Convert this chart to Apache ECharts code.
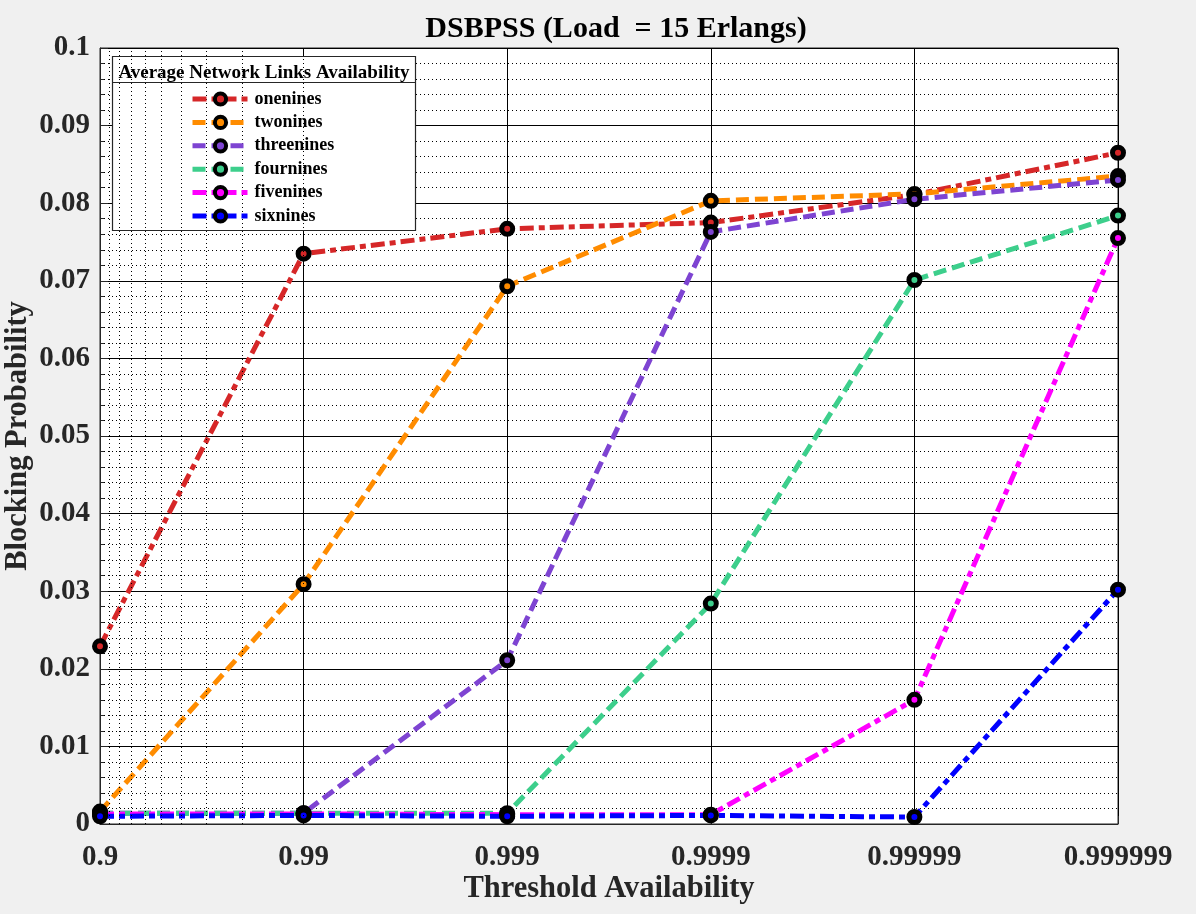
<!DOCTYPE html>
<html>
<head>
<meta charset="utf-8">
<script src="https://cdn.jsdelivr.net/npm/echarts@6/dist/echarts.min.js"></script>
<style>
html,body{margin:0;padding:0;background:#f0f0f0;}
#chart{width:1196px;height:914px;}
</style>
</head>
<body>
<div id="chart"></div>
<script>
// x positions: unavailability (1 - threshold availability), shown on a reversed log axis
const xValues = [0.1, 0.01, 0.001, 0.0001, 0.00001, 0.000001];
const xLabels = ['0.9', '0.99', '0.999', '0.9999', '0.99999', '0.999999'];
const seriesNames = ['onenines', 'twonines', 'threenines', 'fournines', 'fivenines', 'sixnines'];

const onenines   = [0.0229, 0.0735, 0.0767, 0.0775, 0.0811, 0.0865];
const twonines   = [0.0016, 0.0309, 0.0693, 0.0803, 0.0812, 0.0835];
const threenines = [0.0014, 0.0014, 0.0211, 0.0763, 0.0805, 0.0830];
const fournines  = [0.0014, 0.0014, 0.0014, 0.0284, 0.0701, 0.0784];
const fivenines  = [0.0013, 0.0013, 0.0012, 0.0012, 0.0160, 0.0755];
const sixnines   = [0.0010, 0.0011, 0.0010, 0.0011, 0.0009, 0.0302];

const yTicks = [0, 0.01, 0.02, 0.03, 0.04, 0.05, 0.06, 0.07, 0.08, 0.09, 0.1];
const minorMultipliers = [2, 3, 4, 5, 6, 7, 8, 9];
const minorDecades = [0.01, 0.001, 0.0001, 0.00001, 0.000001];

const colors = ['#d62728', '#ff8c00', '#7e44d2', '#3dcf8c', '#ff00ff', '#0000ff'];
const dashes = [[14, 5, 6, 5], [13, 6], [13, 6], [13, 6], [14, 5, 6, 5], [14, 5, 6, 5]];
const allData = [onenines, twonines, threenines, fournines, fivenines, sixnines];

const FONT = '"Liberation Serif", "Times New Roman", serif';

const series = seriesNames.map((name, i) => ({
  name: name,
  type: 'line',
  data: xValues.map((x, j) => [x, allData[i][j]]),
  symbol: 'circle',
  symbolSize: 11,
  z: 3,
  lineStyle: { color: colors[i], width: 5, type: dashes[i] },
  itemStyle: { color: colors[i], borderColor: '#000', borderWidth: 5 },
  emphasis: { disabled: true },
  animation: false
}));

const minorLines = [];
minorDecades.forEach(d => minorMultipliers.forEach(m => minorLines.push({ xAxis: m * d })));

series.push({
  name: 'minorGrid',
  type: 'line',
  data: [],
  z: 1,
  silent: true,
  animation: false,
  markLine: {
    silent: true,
    symbol: 'none',
    label: { show: false },
    lineStyle: { color: '#000', width: 1, type: [1, 3] },
    data: minorLines,
    animation: false
  }
});

const option = {
  backgroundColor: '#f0f0f0',
  animation: false,
  title: [
    {
      text: 'DSBPSS (Load  = 15 Erlangs)',
      left: 611, top: 9, textAlign: 'center',
      textStyle: { fontFamily: FONT, fontSize: 30, fontWeight: 'bold', color: '#000' }
    },
    {
      text: 'Average Network Links Availability',
      left: 259, top: 59, textAlign: 'center',
      z: 6,
      textStyle: { fontFamily: FONT, fontSize: 19, fontWeight: 'bold', color: '#000' }
    }
  ],
  graphic: [
    {
      type: 'rect', z: 4,
      shape: { x: 112.5, y: 56.5, width: 303, height: 174 },
      style: { fill: '#fff', stroke: '#262626', lineWidth: 1.2 }
    },
    {
      type: 'line', z: 5,
      shape: { x1: 112.5, y1: 82.5, x2: 415.5, y2: 82.5 },
      style: { stroke: '#262626', lineWidth: 1.2 }
    }
  ],
  legend: {
    data: seriesNames,
    orient: 'vertical',
    left: 112, top: 88,
    padding: [2, 5, 2, 78],
    itemWidth: 56, itemHeight: 14,
    itemGap: 5.4,
    z: 6,
    selectedMode: false,
    lineStyle: { width: 5 },
    itemStyle: { borderColor: '#000', borderWidth: 4 },
    textStyle: { fontFamily: FONT, fontSize: 18, fontWeight: 'bold', color: '#000', padding: [0, 0, 0, 1] }
  },
  grid: {
    left: 100, right: 78, top: 48, bottom: 90,
    outerBoundsMode: 'none',
    containLabel: false,
    show: true, backgroundColor: '#fff', borderColor: '#262626', borderWidth: 1
  },
  xAxis: {
    type: 'log',
    logBase: 10,
    inverse: true,
    min: 0.000001, max: 0.1,
    interval: 1,
    name: 'Threshold Availability',
    nameLocation: 'middle',
    nameGap: 50,
    nameMoveOverlap: false,
    nameTextStyle: { fontFamily: FONT, fontSize: 30.5, fontWeight: 'bold', color: '#262626' },
    axisLine: { lineStyle: { color: '#262626', width: 1 } },
    axisTick: { inside: true, length: 8, lineStyle: { color: '#262626' } },
    axisLabel: {
      margin: 19,
      fontFamily: FONT, fontSize: 29, fontWeight: 'bold', color: '#262626',
      formatter: function (v) {
        const i = xValues.findIndex(x => Math.abs(Math.log10(x) - Math.log10(v)) < 1e-6);
        return i >= 0 ? xLabels[i] : '';
      }
    },
    splitLine: { show: true, lineStyle: { color: '#000', width: 1 } }
  },
  yAxis: {
    type: 'value',
    min: yTicks[0], max: yTicks[yTicks.length - 1],
    interval: 0.01,
    name: 'Blocking Probability',
    nameLocation: 'middle',
    nameGap: 66,
    nameMoveOverlap: false,
    nameTextStyle: { fontFamily: FONT, fontSize: 30.5, fontWeight: 'bold', color: '#262626' },
    axisLine: { show: true, lineStyle: { color: '#262626', width: 1 } },
    axisTick: { show: true, inside: true, length: 8, lineStyle: { color: '#262626' } },
    axisLabel: {
      margin: 10,
      fontFamily: FONT, fontSize: 29, fontWeight: 'bold', color: '#262626',
      formatter: function (v) {
        const i = yTicks.findIndex(t => Math.abs(t - v) < 1e-9);
        return i >= 0 ? String(yTicks[i]) : '';
      }
    },
    splitLine: { show: true, lineStyle: { color: '#000', width: 1 } },
    minorTick: { show: true, splitNumber: 5, length: 4, lineStyle: { color: '#262626' } },
    minorSplitLine: { show: true, lineStyle: { color: '#000', width: 1, type: [1, 3] } }
  },
  series: series
};

const chart = echarts.init(document.getElementById('chart'));
chart.setOption(option);
</script>
</body>
</html>
